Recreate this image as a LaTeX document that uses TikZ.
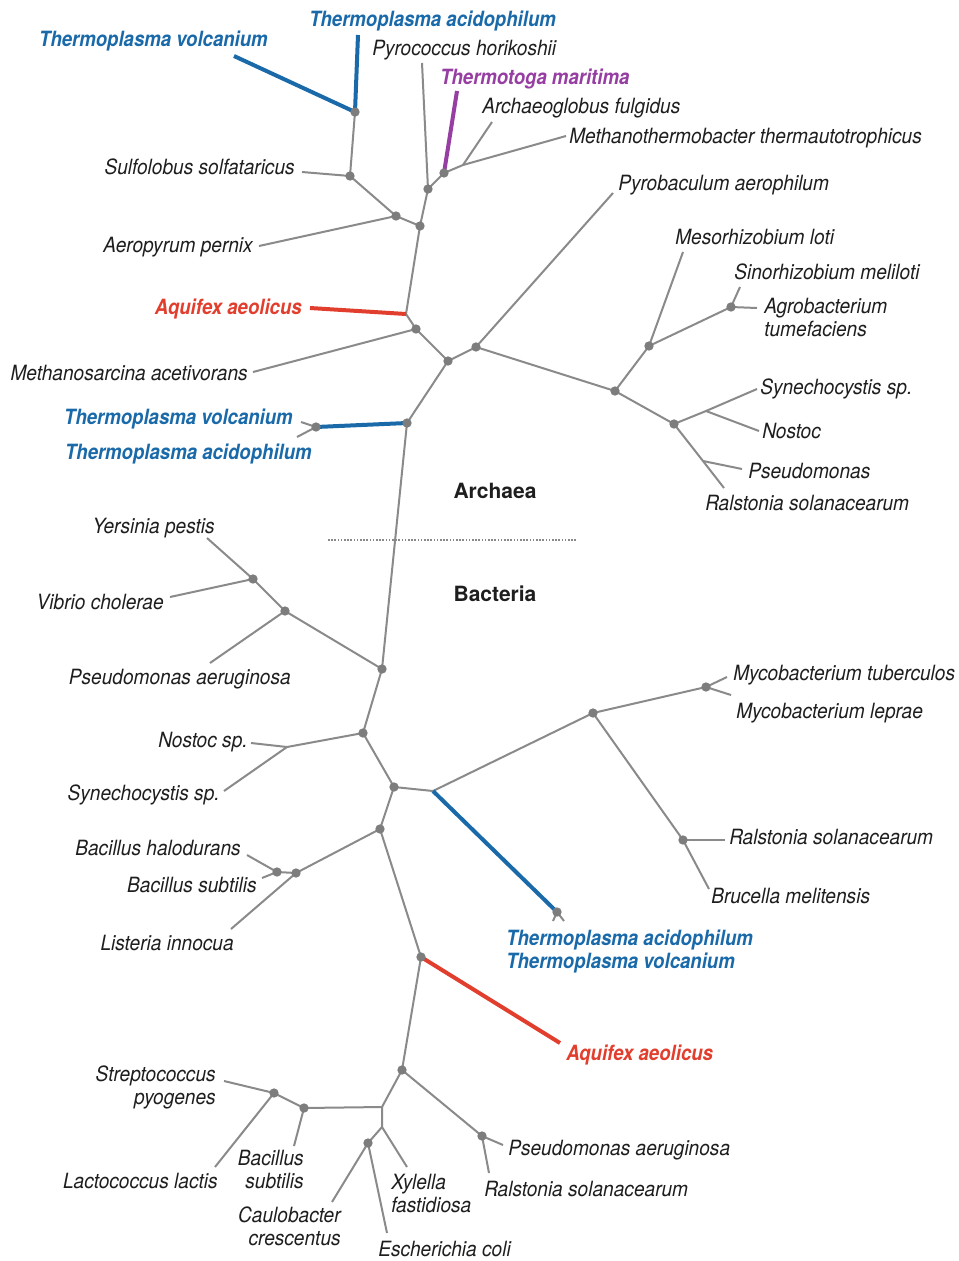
\documentclass[tikz,border=0pt]{standalone}
\usepackage{fontspec}
\newfontfamily\lblfont[FakeStretch=0.91]{TeX Gyre Heros}
\newfontfamily\lblbfont[FakeStretch=0.885]{TeX Gyre Heros}
\newfontfamily\hdrfont{TeX Gyre Heros}
\definecolor{txt}{RGB}{30,30,30}
\definecolor{branchgray}{RGB}{138,138,138}
\definecolor{dotgray}{RGB}{125,125,125}
\definecolor{tblue}{RGB}{26,106,170}
\definecolor{tred}{RGB}{226,62,46}
\definecolor{tpurple}{RGB}{150,62,162}
\tikzset{
  lbl/.style={font=\lblfont\itshape\fontsize{15.75}{17.25}\selectfont, text=txt, inner sep=0pt, yshift=-3.5pt},
  lblb/.style={lbl, font=\lblbfont\bfseries\itshape\fontsize{15.75}{17.25}\selectfont},
  bluelbl/.style={lblb, text=tblue},
  redlbl/.style={lblb, text=tred},
  purplelbl/.style={lblb, text=tpurple},
  hdr/.style={font=\hdrfont\bfseries\fontsize{15.75}{17.25}\selectfont, text=txt, inner sep=0pt},
  branch/.style={draw=branchgray, line width=1.5pt},
  bluebranch/.style={draw=tblue, line width=3pt},
  redbranch/.style={draw=tred, line width=3pt},
  purplebranch/.style={draw=tpurple, line width=3pt},
  dot/.style={circle, fill=dotgray, inner sep=0pt, minimum size=7pt},
}
\begin{document}
\begin{tikzpicture}[x=0.75pt,y=-0.75pt]
\fill[white] (0,0) rectangle (958,1261);
\useasboundingbox (0,0) rectangle (958,1261);

% ---------- Archaea: junctions and leaf ends ----------
\coordinate (a1) at (355,112);
\coordinate (tvAend) at (234,56);
\coordinate (taAend) at (358,35);
\coordinate (a2) at (350,176);
\coordinate (sulfoEnd) at (302,172);
\coordinate (a3) at (396,216);
\coordinate (aeroEnd) at (259,246);
\coordinate (a4) at (420,226);
\coordinate (a5) at (428,189);
\coordinate (pyroEnd) at (422,63);
\coordinate (a5b) at (444,173);
\coordinate (tmEnd) at (457,91);
\coordinate (j1) at (463,165);
\coordinate (archEnd) at (492,122);
\coordinate (methaEnd) at (566,136);
\coordinate (k1) at (406,314);
\coordinate (aquAend) at (310,308);
\coordinate (a6) at (416,329);
\coordinate (msarEnd) at (253,372);
\coordinate (a7) at (448,361);
\coordinate (a8) at (476,347);
\coordinate (pyrobEnd) at (613,193);
\coordinate (a9) at (407,423);
\coordinate (a9b) at (316,427);
\coordinate (tvBend) at (301,422);
\coordinate (taBend) at (297,437);
\coordinate (a10) at (615,391);
\coordinate (a11) at (649,346);
\coordinate (mesoEnd) at (683,252);
\coordinate (a12) at (731,307);
\coordinate (sinoEnd) at (740,287);
\coordinate (agroEnd) at (757,308);
\coordinate (a13) at (674,424);
\coordinate (j2) at (706,411);
\coordinate (synEnd) at (757,389);
\coordinate (nostEnd) at (759,431);
\coordinate (j3) at (703,461);
\coordinate (pseuEnd) at (742,469);
\coordinate (ral1End) at (724,488);

% ---------- Bacteria: junctions and leaf ends ----------
\coordinate (b1) at (382,669);
\coordinate (b2) at (253,579);
\coordinate (yersEnd) at (207,538);
\coordinate (vibEnd) at (170,597);
\coordinate (b3) at (285,611);
\coordinate (paerEnd) at (210,663);
\coordinate (b4) at (363,733);
\coordinate (j4) at (287,747);
\coordinate (nostBEnd) at (251,743);
\coordinate (synBEnd) at (224,791);
\coordinate (b5) at (394,787);
\coordinate (j5) at (433,791);
\coordinate (b6) at (593,713);
\coordinate (b7) at (706,687);
\coordinate (mytbEnd) at (727,677);
\coordinate (mylepEnd) at (731,695);
\coordinate (b8) at (683,840);
\coordinate (ral2End) at (725,840);
\coordinate (brucEnd) at (709,889);
\coordinate (tcB) at (557,912);
\coordinate (tcBl) at (553,921);
\coordinate (tcBr) at (564,921);
\coordinate (b9) at (380,829);
\coordinate (b10) at (296,873);
\coordinate (listEnd) at (231,929);
\coordinate (b11) at (277,872);
\coordinate (bhalEnd) at (247,855);
\coordinate (bsubEnd) at (262,878);
\coordinate (b12) at (421,957);
\coordinate (aquBEnd) at (560,1043);
\coordinate (b13) at (402,1070);
\coordinate (b14) at (482,1136);
\coordinate (paer2End) at (503,1145);
\coordinate (ral3End) at (489,1173);
\coordinate (j6) at (382,1107);
\coordinate (b15) at (304,1108);
\coordinate (bsub2End) at (294,1146);
\coordinate (b16) at (274,1093);
\coordinate (strepEnd) at (224,1081);
\coordinate (lactEnd) at (215,1167);
\coordinate (j7) at (382,1127);
\coordinate (xylEnd) at (407,1167);
\coordinate (b17) at (368,1143);
\coordinate (cauloEnd) at (332,1202);
\coordinate (ecoliEnd) at (387,1233);

% ---------- grey branches ----------
\draw[branch] (sulfoEnd) -- (a2);
\draw[branch] (a1) -- (a2) -- (a3) -- (a4) -- (a5) -- (a5b) -- (j1) -- (methaEnd);
\draw[branch] (j1) -- (archEnd);
\draw[branch] (aeroEnd) -- (a3);
\draw[branch] (a5) -- (pyroEnd);
\draw[branch] (a4) -- (k1) -- (a6) -- (a7) -- (a8) -- (a10) -- (a11) -- (a12) -- (agroEnd);
\draw[branch] (msarEnd) -- (a6);
\draw[branch] (a7) -- (a9) -- (b1);
\draw[branch] (a8) -- (pyrobEnd);
\draw[branch] (a11) -- (mesoEnd);
\draw[branch] (a12) -- (sinoEnd);
\draw[branch] (a10) -- (a13) -- (j2) -- (synEnd);
\draw[branch] (j2) -- (nostEnd);
\draw[branch] (a13) -- (j3) -- (ral1End);
\draw[branch] (j3) -- (pseuEnd);
\draw[branch] (tvBend) -- (a9b) -- (taBend);

\draw[branch] (b1) -- (b3) -- (b2) -- (yersEnd);
\draw[branch] (b2) -- (vibEnd);
\draw[branch] (b3) -- (paerEnd);
\draw[branch] (b1) -- (b4) -- (j4) -- (nostBEnd);
\draw[branch] (j4) -- (synBEnd);
\draw[branch] (b4) -- (b5) -- (j5) -- (b6) -- (b7) -- (mytbEnd);
\draw[branch] (b7) -- (mylepEnd);
\draw[branch] (b6) -- (b8) -- (brucEnd);
\draw[branch] (b8) -- (ral2End);
\draw[branch] (tcBl) -- (tcB) -- (tcBr);
\draw[branch] (b5) -- (b9) -- (b10) -- (b11) -- (bhalEnd);
\draw[branch] (b11) -- (bsubEnd);
\draw[branch] (b10) -- (listEnd);
\draw[branch] (b9) -- (b12) -- (b13) -- (b14) -- (paer2End);
\draw[branch] (b14) -- (ral3End);
\draw[branch] (b13) -- (j6) -- (b15) -- (b16) -- (strepEnd);
\draw[branch] (b16) -- (lactEnd);
\draw[branch] (b15) -- (bsub2End);
\draw[branch] (j6) -- (j7) -- (xylEnd);
\draw[branch] (j7) -- (b17) -- (cauloEnd);
\draw[branch] (b17) -- (ecoliEnd);

% ---------- highlighted branches ----------
\draw[bluebranch] (tvAend) -- (a1) -- (taAend);
\draw[purplebranch] (a5b) -- (tmEnd);
\draw[redbranch] (k1) -- (aquAend);
\draw[bluebranch] (a9) -- (a9b);
\draw[bluebranch] (j5) -- (tcB);
\draw[redbranch] (b12) -- (aquBEnd);

% ---------- junction dots ----------
\foreach \n in {a1,a2,a3,a4,a5,a5b,a6,a7,a8,a9,a9b,a10,a11,a12,a13,
                b1,b2,b3,b4,b5,b6,b7,b8,tcB,b9,b10,b11,b12,b13,b14,b15,b16,b17}
  \node[dot] (dot-\n) at (\n) {};

% ---------- domain divider ----------
\coordinate (divL) at (328,540);
\coordinate (divR) at (577,540);
\draw[branchgray, line width=1.2pt, dash pattern=on 1.2pt off 1.2pt] (divL) -- (divR);
\node[hdr] (archaea) at (495,491) {Archaea};
\node[hdr] (bacteria) at (495,594) {Bacteria};

% ---------- Archaea labels ----------
\node[bluelbl, anchor=mid west] (lbl-taA) at (309,19) {Thermoplasma acidophilum};
\node[bluelbl, anchor=mid east] (lbl-tvA) at (268,39) {Thermoplasma volcanium};
\node[lbl, anchor=mid west] (lbl-pyro) at (372,48) {Pyrococcus horikoshii};
\node[purplelbl, anchor=mid west] (lbl-tmar) at (440,77) {Thermotoga maritima};
\node[lbl, anchor=mid west] (lbl-arch) at (482,106) {Archaeoglobus fulgidus};
\node[lbl, anchor=mid west] (lbl-metha) at (569,136) {Methanothermobacter thermautotrophicus};
\node[lbl, anchor=mid east] (lbl-sulfo) at (295,167) {Sulfolobus solfataricus};
\node[lbl, anchor=mid west] (lbl-pyrob) at (618,183) {Pyrobaculum aerophilum};
\node[lbl, anchor=mid east] (lbl-aero) at (253,245) {Aeropyrum pernix};
\node[lbl, anchor=mid west] (lbl-meso) at (675,237) {Mesorhizobium loti};
\node[lbl, anchor=mid west] (lbl-sino) at (734,272) {Sinorhizobium meliloti};
\node[lbl, anchor=west, align=left] (lbl-agro) at (764,313) {Agrobacterium\\tumefaciens};
\node[redlbl, anchor=mid east] (lbl-aquA) at (302,307) {Aquifex aeolicus};
\node[lbl, anchor=mid east] (lbl-msar) at (248,373) {Methanosarcina acetivorans};
\node[bluelbl, anchor=mid east] (lbl-tvB) at (293,417) {Thermoplasma volcanium};
\node[bluelbl, anchor=mid east] (lbl-taB) at (312,452) {Thermoplasma acidophilum};
\node[lbl, anchor=mid west] (lbl-syn1) at (760,387) {Synechocystis sp.};
\node[lbl, anchor=mid west] (lbl-nost) at (762,431) {Nostoc};
\node[lbl, anchor=mid west] (lbl-pseu) at (748,471) {Pseudomonas};
\node[lbl, anchor=mid west] (lbl-ral1) at (705,503) {Ralstonia solanacearum};

% ---------- Bacteria labels ----------
\node[lbl, anchor=mid east] (lbl-yers) at (215,526) {Yersinia pestis};
\node[lbl, anchor=mid east] (lbl-vib) at (164,602) {Vibrio cholerae};
\node[lbl, anchor=mid east] (lbl-paer) at (291,677) {Pseudomonas aeruginosa};
\node[lbl, anchor=mid west] (lbl-mytb) at (733,673) {Mycobacterium tuberculos};
\node[lbl, anchor=mid west] (lbl-mylep) at (736,711) {Mycobacterium leprae};
\node[lbl, anchor=mid east] (lbl-nostB) at (248,740) {Nostoc sp.};
\node[lbl, anchor=mid east] (lbl-synB) at (220,793) {Synechocystis sp.};
\node[lbl, anchor=mid west] (lbl-ral2) at (729,837) {Ralstonia solanacearum};
\node[lbl, anchor=mid east] (lbl-bhal) at (241,848) {Bacillus halodurans};
\node[lbl, anchor=mid east] (lbl-bsub) at (257,885) {Bacillus subtilis};
\node[lbl, anchor=mid west] (lbl-bruc) at (711,896) {Brucella melitensis};
\node[lbl, anchor=mid east] (lbl-list) at (234,943) {Listeria innocua};
\node[bluelbl, anchor=west, align=left] (lbl-tcB) at (506,947) {Thermoplasma acidophilum\\Thermoplasma volcanium};
\node[redlbl, anchor=mid west] (lbl-aquB) at (566,1053) {Aquifex aeolicus};
\node[lbl, anchor=east, align=right] (lbl-strep) at (216,1083) {Streptococcus\\pyogenes};
\node[lbl, anchor=mid west] (lbl-paer2) at (508,1148) {Pseudomonas aeruginosa};
\node[lbl, anchor=east, align=right] (lbl-bsub2) at (304,1165) {Bacillus\\subtilis};
\node[lbl, anchor=mid east] (lbl-lact) at (218,1181) {Lactococcus lactis};
\node[lbl, anchor=west, align=left] (lbl-xyl) at (391,1189) {Xylella\\fastidiosa};
\node[lbl, anchor=mid west] (lbl-ral3) at (484,1189) {Ralstonia solanacearum};
\node[lbl, anchor=east, align=right] (lbl-caulo) at (341,1222) {Caulobacter\\crescentus};
\node[lbl, anchor=mid west] (lbl-ecoli) at (378,1249) {Escherichia coli};
\end{tikzpicture}
\end{document}
